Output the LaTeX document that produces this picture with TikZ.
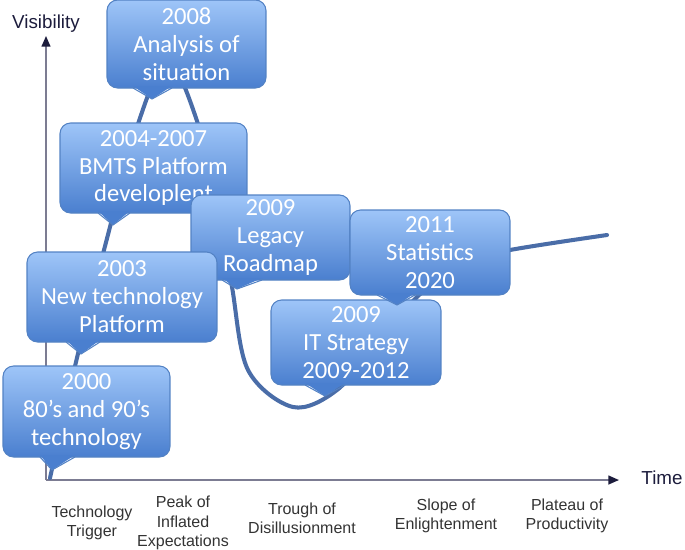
\documentclass[tikz,border=0pt]{standalone}
\usepackage{fontspec}
\setmainfont{Carlito}
\newfontfamily\arialfont{Liberation Sans}
\usepackage{tikz}
\usetikzlibrary{arrows.meta}
\definecolor{boxtop}{HTML}{9EC5F8}
\definecolor{boxbot}{HTML}{4A7FCF}
\definecolor{boxedge}{HTML}{5382C4}
\definecolor{curveblue}{HTML}{4A6DA8}
\definecolor{axisgray}{HTML}{7C7C92}
\definecolor{tipnavy}{HTML}{1C1C3C}
\definecolor{labelgray}{HTML}{333333}

\tikzset{
  callout/.style={draw=boxedge, line width=0.6pt, rounded corners=6pt,
    top color=boxtop, bottom color=boxbot, text=white, align=center,
    inner sep=0pt, font=\fontsize{14}{15.9}\selectfont},
  pointer/.style={fill=boxbot},
  pointeredge/.style={draw=boxedge, line width=0.6pt},
  phase/.style={align=center, text=labelgray, font=\arialfont\fontsize{9.1}{11}\selectfont},
  axislabel/.style={text=tipnavy, font=\arialfont\fontsize{10.7}{12}\selectfont}
}

\begin{document}
\begin{tikzpicture}[x=0.02cm, y=-0.02cm]
\useasboundingbox (0,0) rectangle (685,549);

% axes
\coordinate (origin) at (46,480);
\coordinate (ytop) at (46,36);
\coordinate (xend) at (619,480);
\draw[axisgray, line width=0.9pt, -{Triangle[length=6pt, width=5pt, color=tipnavy]}] (origin) -- (ytop);
\draw[axisgray, line width=0.9pt, -{Triangle[length=6pt, width=5pt, color=tipnavy]}] (origin) -- (xend);
\node[axislabel] (vis) at (46,24) {Visibility};
\node[axislabel] (time) at (662,478) {Time};

% hype curve
\draw[curveblue, line width=2.3pt, line cap=round] plot[smooth, tension=0.55] coordinates {
  (50,478) (76,362) (104,250) (140,118) (168,62) (196,118) (219,212)
  (232,287) (248,370) (293,407) (337,390) (380,340) (417,297)
  (460,263) (510,250) (607,235)};

% phases
\node[phase] (trigger) at (92,523) {Technology\\Trigger};
\node[phase] (peak) at (183,523) {Peak of\\Inflated\\Expectations};
\node[phase] (trough) at (302,518) {Trough of\\Disillusionment};
\node[phase] (slope) at (446,516) {Slope of\\Enlightenment};
\node[phase] (plateau) at (567,516) {Plateau of\\Productivity};

% callouts
\node[callout, minimum width=3.18cm, minimum height=1.76cm] (analysis) at (186.5,44) {2008\\Analysis of\\situation};
\fill[pointer] (133,86) -- (152,99) -- (172,86) -- cycle;
\draw[pointeredge] (133,88) -- (152,99) -- (172,88);

\node[callout, minimum width=3.74cm, minimum height=1.8cm] (bmts) at (153.5,168) {2004-2007\\BMTS Platform\\developlent};
\fill[pointer] (98,211) -- (113,225) -- (130,211) -- cycle;
\draw[pointeredge] (98,213) -- (113,225) -- (130,213);

\node[callout, minimum width=3.18cm, minimum height=1.7cm] (legacy) at (270.5,237.5) {2009\\Legacy\\Roadmap};
\fill[pointer] (222,278) -- (237,289) -- (262,278) -- cycle;
\draw[pointeredge] (222,280) -- (237,289) -- (262,280);

\node[callout, minimum width=3.8cm, minimum height=1.8cm] (newtech) at (122,297) {2003\\New technology\\Platform};
\fill[pointer] (66,340) -- (81,354) -- (100,340) -- cycle;
\draw[pointeredge] (66,342) -- (81,354) -- (100,342);

\node[callout, minimum width=3.34cm, minimum height=1.82cm] (oldtech) at (86.5,411.5) {2000\\80’s and 90’s\\technology};
\fill[pointer] (40,455) -- (52,470) -- (75,455) -- cycle;
\draw[pointeredge] (40,457) -- (52,470) -- (75,457);

\node[callout, minimum width=3.4cm, minimum height=1.7cm] (itstrategy) at (356,342.5) {2009\\IT Strategy\\2009-2012};
\fill[pointer] (305,383) -- (325,396) -- (345,383) -- cycle;
\draw[pointeredge] (305,385) -- (325,396) -- (345,385);

\node[callout, minimum width=3.2cm, minimum height=1.7cm] (statistics) at (430,252.5) {2011\\Statistics\\2020};
\fill[pointer] (377,293) -- (397,305) -- (415,293) -- cycle;
\draw[pointeredge] (377,295) -- (397,305) -- (415,295);

\end{tikzpicture}
\end{document}
